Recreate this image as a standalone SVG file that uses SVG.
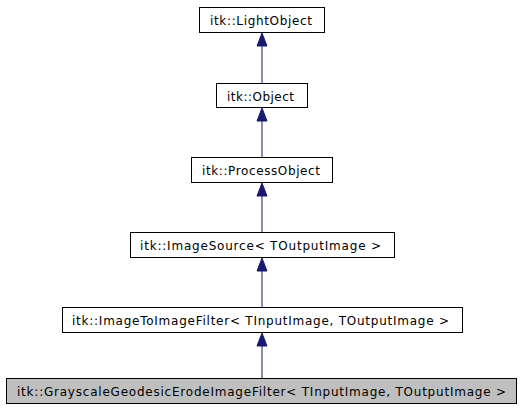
<svg xmlns="http://www.w3.org/2000/svg" width="523" height="411" viewBox="0 0 523 411">
<style>
.box{fill:#ffffff;stroke:#000000;stroke-width:1}
.cur{fill:#bfbfbf;stroke:#000000;stroke-width:1}
.lbl{font-family:"DejaVu Sans",sans-serif;font-size:12px;fill:#000000}
.edge{stroke:#191970;stroke-width:1;fill:none}
.head{fill:#191970;stroke:#191970;stroke-width:1}
</style>
<rect x="0" y="0" width="523" height="411" fill="#ffffff"/>
<g id="connectors">
<line class="edge" x1="262" y1="83" x2="262" y2="46"/>
<polygon class="head" points="262,33 257,46 267,46"/>
<line class="edge" x1="262" y1="157" x2="262" y2="121"/>
<polygon class="head" points="262,108 257,121 267,121"/>
<line class="edge" x1="262" y1="232" x2="262" y2="196"/>
<polygon class="head" points="262,183 257,196 267,196"/>
<line class="edge" x1="262" y1="307" x2="262" y2="271"/>
<polygon class="head" points="262,258 257,271 267,271"/>
<line class="edge" x1="262" y1="378" x2="262" y2="346"/>
<polygon class="head" points="262,333 257,346 267,346"/>
</g>
<g id="node-lightobject">
<rect class="box" x="199.5" y="7.5" width="125" height="25"/>
<text class="lbl" x="210" y="24.5" textLength="102">itk::LightObject</text>
</g>
<g id="node-object">
<rect class="box" x="216.5" y="83.5" width="91" height="24"/>
<text class="lbl" x="227" y="100.5" textLength="67">itk::Object</text>
</g>
<g id="node-processobject">
<rect class="box" x="191.5" y="157.5" width="141" height="25"/>
<text class="lbl" x="202" y="174.5" textLength="118">itk::ProcessObject</text>
</g>
<g id="node-imagesource">
<rect class="box" x="130.5" y="232.5" width="264" height="25"/>
<text class="lbl" x="140" y="249.5" textLength="241">itk::ImageSource&lt; TOutputImage &gt;</text>
</g>
<g id="node-imagetoimagefilter">
<rect class="box" x="62.5" y="307.5" width="400" height="25"/>
<text class="lbl" x="72" y="324.5" textLength="377">itk::ImageToImageFilter&lt; TInputImage, TOutputImage &gt;</text>
</g>
<g id="node-grayscalegeodesicerode">
<rect class="cur" x="6.5" y="378.5" width="510" height="25"/>
<text class="lbl" x="17" y="395.5" textLength="489">itk::GrayscaleGeodesicErodeImageFilter&lt; TInputImage, TOutputImage &gt;</text>
</g>
</svg>
